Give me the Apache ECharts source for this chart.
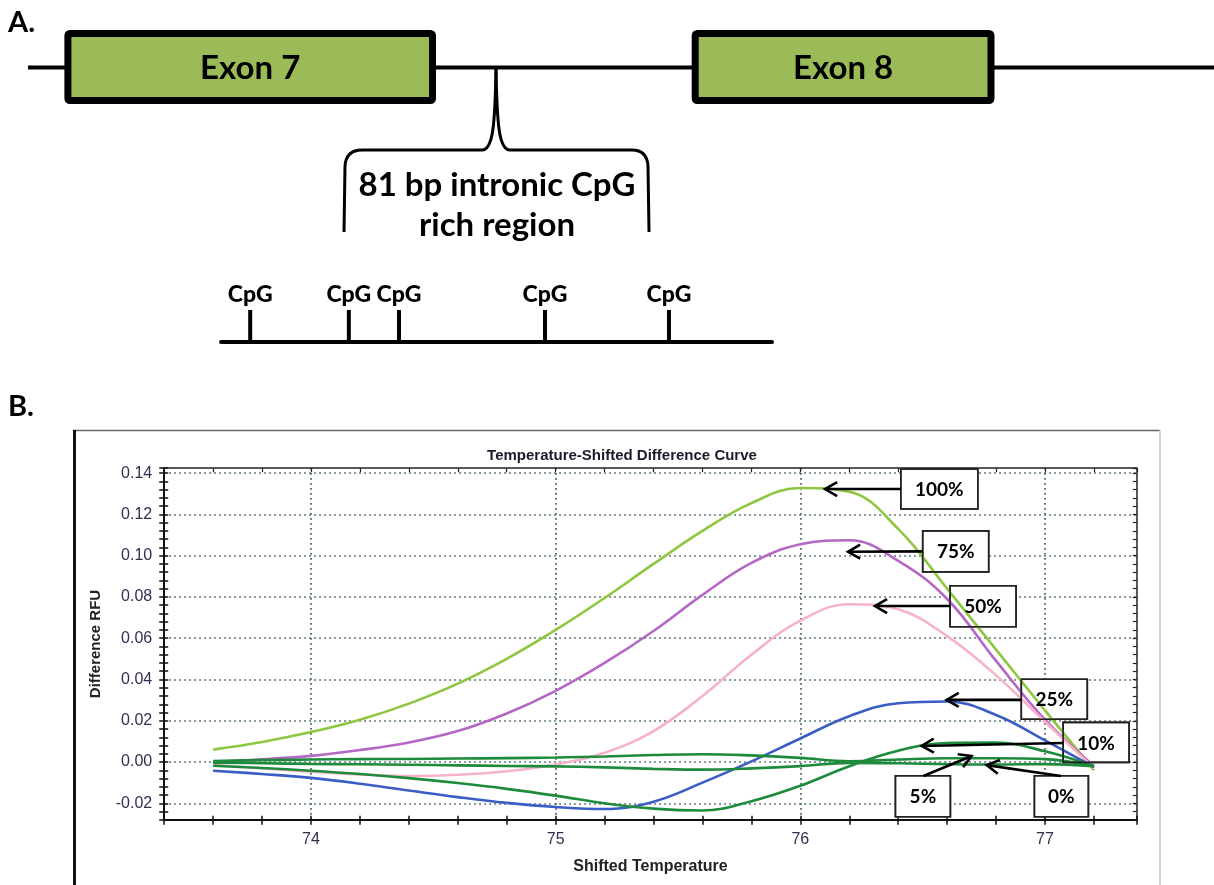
<!DOCTYPE html>
<html>
<head>
<meta charset="utf-8">
<title>Temperature-Shifted Difference Curve</title>
<script src="https://cdn.jsdelivr.net/npm/echarts@6.0.0/dist/echarts.min.js"></script>
<style>
    html, body { margin: 0; padding: 0; background: #fff; }
    #main { width: 1214px; height: 885px; }
</style>
</head>
<body>
<div id="main"></div>
<script>
// shifted temperature (x values shared by every curve)
var temps = [73.6, 73.8, 74.0, 74.2, 74.4, 74.6, 74.8, 75.0, 75.2, 75.4,
             75.6, 75.8, 76.0, 76.2, 76.4, 76.6, 76.8, 77.0, 77.2];

// difference RFU, one array per methylation standard
var rfu100 = [0.0060, 0.0097, 0.0145, 0.0205, 0.0283, 0.0380, 0.0500, 0.0640, 0.0795, 0.0960,
              0.1120, 0.1255, 0.1328, 0.1310, 0.1130, 0.0840, 0.0545, 0.0250, -0.0040];
var rfu75 = [0.0000, 0.0013, 0.0030, 0.0058, 0.0095, 0.0150, 0.0235, 0.0345, 0.0480, 0.0635,
             0.0810, 0.0965, 0.1055, 0.1075, 0.0975, 0.0790, 0.0490, 0.0205, -0.0020];
var rfu50 = [-0.0015, -0.0030, -0.0047, -0.0060, -0.0068, -0.0062, -0.0045, -0.0012, 0.0045, 0.0150,
             0.0320, 0.0520, 0.0685, 0.0765, 0.0740, 0.0610, 0.0420, 0.0195, -0.0030];
var rfu25 = [-0.0042, -0.0058, -0.0077, -0.0105, -0.0138, -0.0170, -0.0198, -0.0218, -0.0228, -0.0192,
             -0.0100, 0.0003, 0.0114, 0.0222, 0.0285, 0.0293, 0.0228, 0.0105, -0.0025];
var rfu10 = [-0.0018, -0.0029, -0.0042, -0.0058, -0.0078, -0.0102, -0.0130, -0.0163, -0.0200, -0.0226,
             -0.0235, -0.0190, -0.0115, -0.0020, 0.0055, 0.0092, 0.0094, 0.0052, -0.0020];
var rfu5 = [0.0005, 0.0009, 0.0012, 0.0014, 0.0015, 0.0017, 0.0019, 0.0022, 0.0027, 0.0034,
            0.0038, 0.0032, 0.0020, 0.0004, 0.0012, 0.0018, 0.0018, 0.0014, -0.0020];
var rfu0 = [-0.0003, -0.0006, -0.0009, -0.0011, -0.0013, -0.0016, -0.0019, -0.0021, -0.0026, -0.0033,
            -0.0037, -0.0031, -0.0020, -0.0004, -0.0006, -0.0010, -0.0012, -0.0010, -0.0020];

// tick labels
var tempLabels = [74, 75, 76, 77];
var rfuLabels = [-0.02, 0.00, 0.02, 0.04, 0.06, 0.08, 0.10, 0.12, 0.14];

// CpG sites, relative position (0-100) along the drawn intronic segment
var cpgSites = [5.3, 23.2, 32.3, 58.8, 81.3];

var curves = [
    { name: '100%', data: rfu100, color: '#8dc63f' },
    { name: '75%', data: rfu75, color: '#b467c3' },
    { name: '50%', data: rfu50, color: '#f6b3c6' },
    { name: '25%', data: rfu25, color: '#3a5cc5' },
    { name: '10%', data: rfu10, color: '#1e8b3c' },
    { name: '5%', data: rfu5, color: '#1e8b3c' },
    { name: '0%', data: rfu0, color: '#1e8b3c' }
];

// callout boxes, in data units (temperature, RFU)
var notes = [
    { text: '100%', box: [76.568, 0.1323], w: 77, h: 40, from: [76.411, 0.1323], tip: [76.101, 0.1323] },
    { text: '75%', box: [76.635, 0.1021], w: 66, h: 41, from: [76.500, 0.1021], tip: [76.195, 0.1019] },
    { text: '50%', box: [76.747, 0.0755], w: 66, h: 41, from: [76.612, 0.0756], tip: [76.305, 0.0756] },
    { text: '25%', box: [77.038, 0.0304], w: 66, h: 40, from: [76.902, 0.0301], tip: [76.598, 0.0301] },
    { text: '10%', box: [77.209, 0.0095], w: 66, h: 40, from: [77.075, 0.0092], tip: [76.496, 0.0078] },
    { text: '5%', box: [76.501, -0.0166], w: 55, h: 41, from: [76.503, -0.0068], tip: [76.700, 0.0029] },
    { text: '0%', box: [77.067, -0.0166], w: 54, h: 41, from: [77.065, -0.0068], tip: [76.762, -0.0015] }
];

var chartFont = 'Liberation Sans';
var diagFont = 'Lato';
var tickColor = '#2e3050';

function pick(list, v) {
    for (var i = 0; i < list.length; i++) {
        if (Math.abs(list[i] - v) < 1e-6) return list[i];
    }
    return null;
}

function pairs(vals) {
    return temps.map(function (t, i) { return [t, vals[i]]; });
}

var series = [];

// dotted grid lines at the labelled ticks
series.push({
    type: 'line',
    data: [[tempLabels[0], 0]],
    symbol: 'none',
    lineStyle: { opacity: 0 },
    silent: true,
    z: 0,
    markLine: {
        z: 0,
        silent: true,
        animation: false,
        symbol: ['none', 'none'],
        label: { show: false },
        emphasis: { disabled: true },
        lineStyle: { color: '#45636c', width: 1.7, type: [1.7, 3.3] },
        data: tempLabels.map(function (t) { return { xAxis: t }; })
            .concat(rfuLabels.map(function (v) { return { yAxis: v }; }))
    }
});

curves.forEach(function (c) {
    series.push({
        name: c.name,
        type: 'line',
        data: pairs(c.data),
        smooth: 0.4,
        symbol: 'none',
        z: 2,
        lineStyle: { color: c.color, width: 2.6 },
        emphasis: { disabled: true }
    });
});

// CpG sites on the intron segment
series.push({
    type: 'scatter',
    xAxisIndex: 3,
    yAxisIndex: 3,
    data: cpgSites.map(function (p) { return [p, 0]; }),
    symbol: 'rect',
    symbolSize: [4, 32],
    symbolOffset: [0, -16],
    itemStyle: { color: '#000', opacity: 1 },
    silent: true,
    label: {
        show: true,
        position: 'top',
        distance: 4,
        formatter: 'CpG',
        fontFamily: diagFont,
        fontWeight: 900,
        fontSize: 23,
        color: '#000'
    }
});

var chart = echarts.init(document.getElementById('main'), null, { renderer: 'canvas' });

var tickLabelStyle = {
    margin: 12,
    color: tickColor,
    fontFamily: chartFont,
    fontSize: 16
};

chart.setOption({
    animation: false,
    backgroundColor: '#fff',
    title: {
        text: 'Temperature-Shifted Difference Curve',
        left: 617,
        top: 443,
        textAlign: 'center',
        textStyle: { fontFamily: chartFont, fontSize: 15, fontWeight: 'bold', color: '#1a1a2a' }
    },
    grid: [
        { left: 164.2, top: 468.2, width: 972.55, height: 351.6, outerBoundsMode: 'none',
          show: false },
        { left: 221, top: 300, width: 551, height: 42, outerBoundsMode: 'none', show: false }
    ],
    xAxis: [
        {
            gridIndex: 0, type: 'value', position: 'bottom',
            min: 73.4, max: 77.375, interval: 0.2,
            axisLine: { show: true, onZero: false, lineStyle: { color: '#111', width: 2 } },
            axisTick: { show: true, inside: false, length: 5, lineStyle: { color: '#111', width: 1.5 } },
            axisLabel: echarts.util.extend({
                formatter: function (v) { var k = pick(tempLabels, v); return k === null ? '' : String(k); }
            }, tickLabelStyle),
            splitLine: { show: false },
            name: 'Shifted Temperature', nameLocation: 'middle', nameGap: 39,
            nameTextStyle: { fontFamily: chartFont, fontSize: 16, fontWeight: 'bold', color: '#222' }
        },
        {
            gridIndex: 0, type: 'value', position: 'top',
            min: 73.4, max: 77.375, interval: 0.2,
            axisLine: { show: true, onZero: false, lineStyle: { color: '#222', width: 1.5 } },
            axisTick: { show: true, inside: true, length: 4, lineStyle: { color: '#222', width: 1.2 } },
            axisLabel: { show: false },
            splitLine: { show: false }
        },
        {
            gridIndex: 0, type: 'value', position: 'bottom',
            min: 73.4, max: 77.375, interval: 0.2,
            axisLine: { show: false, onZero: false },
            axisTick: { show: true, inside: true, length: 4, lineStyle: { color: '#111', width: 1.5 } },
            axisLabel: { show: false },
            splitLine: { show: false }
        },
        {
            gridIndex: 1, type: 'value', min: 0, max: 100,
            axisLine: { show: true, onZero: false, lineStyle: { color: '#000', width: 4 } },
            axisTick: { show: false },
            axisLabel: { show: false },
            splitLine: { show: false }
        }
    ],
    yAxis: [
        {
            gridIndex: 0, type: 'value', position: 'left',
            min: -0.028, max: 0.1424, interval: 0.004,
            axisLine: { show: true, onZero: false, lineStyle: { color: '#111', width: 2 } },
            axisTick: { show: true, inside: false, length: 5, lineStyle: { color: '#111', width: 1.5 } },
            axisLabel: echarts.util.extend({
                formatter: function (v) { var k = pick(rfuLabels, v); return k === null ? '' : k.toFixed(2); }
            }, tickLabelStyle),
            splitLine: { show: false },
            name: 'Difference RFU', nameLocation: 'middle', nameGap: 61, nameRotate: 90,
            nameTextStyle: { fontFamily: chartFont, fontSize: 15, fontWeight: 'bold', color: '#222' }
        },
        {
            gridIndex: 0, type: 'value', position: 'right',
            min: -0.028, max: 0.1424, interval: 0.004,
            axisLine: { show: true, onZero: false, lineStyle: { color: '#222', width: 1.5 } },
            axisTick: { show: true, inside: true, length: 4, lineStyle: { color: '#222', width: 1.2 } },
            axisLabel: { show: false },
            splitLine: { show: false }
        },
        {
            gridIndex: 0, type: 'value', position: 'left',
            min: -0.028, max: 0.1424, interval: 0.004,
            axisLine: { show: false, onZero: false },
            axisTick: { show: true, inside: true, length: 4, lineStyle: { color: '#111', width: 1.5 } },
            axisLabel: { show: false },
            splitLine: { show: false }
        },
        {
            gridIndex: 1, type: 'value', min: 0, max: 1, show: false
        }
    ],
    series: series
});

// --- graphic layer: gene diagram, panel frame, callouts ---
var black = '#000';
var g = [];

function txt(s, x, y, size, align, z) {
    return {
        type: 'text', z: z || 10, silent: true,
        style: {
            text: s, x: x, y: y, fill: black,
            font: 'bold ' + size + 'px ' + diagFont,
            textAlign: align || 'center', textVerticalAlign: 'middle'
        }
    };
}
function seg(x1, y1, x2, y2, w, color) {
    return { type: 'line', z: 10, silent: true,
             shape: { x1: x1, y1: y1, x2: x2, y2: y2 },
             style: { stroke: color || black, lineWidth: w } };
}
function quad(x1, y1, cx, cy, x2, y2, w) {
    return { type: 'bezierCurve', z: 10, silent: true,
             shape: { x1: x1, y1: y1, cpx1: cx, cpy1: cy, x2: x2, y2: y2 },
             style: { stroke: black, lineWidth: w, fill: null } };
}
function cubic(x1, y1, c1x, c1y, c2x, c2y, x2, y2, w) {
    return { type: 'bezierCurve', z: 10, silent: true,
             shape: { x1: x1, y1: y1, cpx1: c1x, cpy1: c1y, cpx2: c2x, cpy2: c2y, x2: x2, y2: y2 },
             style: { stroke: black, lineWidth: w, fill: null } };
}

// panel letters
g.push(txt('A.', 8, 23, 29, 'left'));
g.push(txt('B.', 8, 407, 29, 'left'));

// gene line and exons
g.push(seg(28, 67.5, 1214, 67.5, 4));
[[64.4, 436, 'Exon 7'], [691.7, 994.5, 'Exon 8']].forEach(function (e) {
    g.push({
        type: 'rect', z: 11, silent: true,
        shape: { x: e[0] + 3.5, y: 33.5, width: e[1] - e[0] - 7, height: 67, r: 2 },
        style: { fill: '#9bbb59', stroke: black, lineWidth: 7 }
    });
    g.push(txt(e[2], (e[0] + e[1]) / 2, 68, 33, 'center', 12));
});

// bracket for the 81 bp region
g.push(seg(344, 232, 345, 166, 3));
g.push(quad(345, 166, 346, 150, 362, 150, 3));
g.push(seg(362, 150, 482, 150, 3));
g.push(cubic(482, 150, 493, 150, 495, 125, 496, 69, 3));
g.push(cubic(496, 69, 497, 125, 499, 150, 510, 150, 3));
g.push(seg(510, 150, 632, 150, 3));
g.push(quad(632, 150, 647, 150, 648, 166, 3));
g.push(seg(648, 166, 649, 232, 3));
g.push(txt('81 bp intronic CpG', 497, 185, 33));
g.push(txt('rich region', 497, 225, 33));

// chart frame
g.push(seg(73, 430.5, 1160, 430.5, 1.5, '#666'));
g.push(seg(74.5, 430, 74.5, 885, 3, '#111'));
g.push(seg(1160, 430, 1160, 885, 1.5, '#c8c8c8'));

// callouts
function px(p) {
    return chart.convertToPixel({ xAxisIndex: 0, yAxisIndex: 0 }, p);
}
function head(a, b, len, ang) {
    var dx = b[0] - a[0], dy = b[1] - a[1];
    var d = Math.sqrt(dx * dx + dy * dy);
    var ux = dx / d, uy = dy / d;
    var c = Math.cos(ang), s = Math.sin(ang);
    return [
        [b[0] - len * (ux * c - uy * s), b[1] - len * (uy * c + ux * s)],
        [b[0], b[1]],
        [b[0] - len * (ux * c + uy * s), b[1] - len * (uy * c - ux * s)]
    ];
}
notes.forEach(function (n) {
    var c = px(n.box), a = px(n.from), b = px(n.tip);
    g.push({
        type: 'rect', z: 1, silent: true,
        shape: { x: c[0] - n.w / 2, y: c[1] - n.h / 2, width: n.w, height: n.h },
        style: { fill: '#fff', stroke: '#222', lineWidth: 1.6 }
    });
    g.push({
        type: 'rect', z: 9, silent: true,
        shape: { x: c[0] - n.w / 2, y: c[1] - n.h / 2, width: n.w, height: n.h },
        style: { fill: null, stroke: '#222', lineWidth: 1.6 }
    });
    g.push(txt(n.text, c[0], c[1] + 1, 19));
    g.push({ type: 'polyline', z: 10, silent: true,
             shape: { points: [a, b] }, style: { stroke: black, lineWidth: 2.6, fill: null } });
    g.push({ type: 'polyline', z: 10, silent: true,
             shape: { points: head(a, b, 14, Math.PI / 6) },
             style: { stroke: black, lineWidth: 2.6, fill: null } });
});

chart.setOption({ graphic: { elements: g } });
</script>
</body>
</html>
